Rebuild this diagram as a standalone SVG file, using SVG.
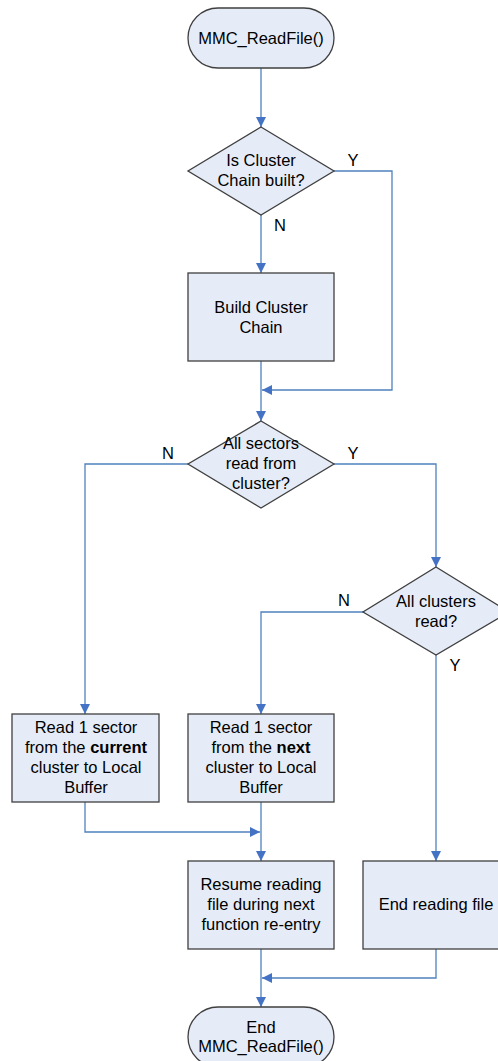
<svg xmlns="http://www.w3.org/2000/svg" width="498" height="1061" viewBox="0 0 498 1061">
  <style>
    .shape { fill: #E6ECF7; stroke: #3F3F3F; stroke-width: 1.3; }
    .conn { fill: none; stroke: #4F81BD; stroke-width: 1.3; }
    text { font-family: "Liberation Sans", Arial, sans-serif; font-size: 16.5px; fill: #000; text-anchor: middle; }
    .lbl { text-anchor: middle; }
  </style>
  <defs>
    <marker id="arrow" viewBox="0 0 10 10" refX="10" refY="5" markerWidth="10" markerHeight="10" markerUnits="userSpaceOnUse" orient="auto">
      <path d="M0,0 L10,5 L0,10 Z" fill="#4472C4"/>
    </marker>
  </defs>
  <rect width="498" height="1061" fill="#FFFFFF"/>

  <!-- connectors -->
  <g id="connectors">
    <path class="conn" d="M261,68 V127" marker-end="url(#arrow)"/>
    <path class="conn" d="M334,171 H392 V390 H262" marker-end="url(#arrow)"/>
    <path class="conn" d="M261,215 V273" marker-end="url(#arrow)"/>
    <path class="conn" d="M261,361 V421" marker-end="url(#arrow)"/>
    <path class="conn" d="M188,464 H85 V714" marker-end="url(#arrow)"/>
    <path class="conn" d="M334,464 H436 V567" marker-end="url(#arrow)"/>
    <path class="conn" d="M363,612 H261 V714" marker-end="url(#arrow)"/>
    <path class="conn" d="M436,655 V861" marker-end="url(#arrow)"/>
    <path class="conn" d="M85,802 V832 H260" marker-end="url(#arrow)"/>
    <path class="conn" d="M261,802 V861" marker-end="url(#arrow)"/>
    <path class="conn" d="M261,949 V1007" marker-end="url(#arrow)"/>
    <path class="conn" d="M436,949 V978 H262" marker-end="url(#arrow)"/>
    <text class="lbl" x="353" y="166">Y</text>
    <text class="lbl" x="280" y="231">N</text>
    <text class="lbl" x="168" y="459">N</text>
    <text class="lbl" x="353" y="459">Y</text>
    <text class="lbl" x="344" y="606">N</text>
    <text class="lbl" x="455" y="671">Y</text>
  </g>

  <g id="start">
    <rect class="shape" x="188" y="8" width="146" height="60" rx="30" ry="30"/>
    <text x="261" y="44">MMC_ReadFile()</text>
  </g>

  <g id="chain-built">
    <polygon class="shape" points="261,127 334,171 261,215 188,171"/>
    <text x="261" y="166">Is Cluster</text>
    <text x="261" y="186">Chain built?</text>
  </g>

  <g id="build-chain">
    <rect class="shape" x="188" y="273" width="146" height="88"/>
    <text x="261" y="313">Build Cluster</text>
    <text x="261" y="333">Chain</text>
  </g>

  <g id="sectors-read">
    <polygon class="shape" points="261,421 334,464 261,508 188,464"/>
    <text x="261" y="449">All sectors</text>
    <text x="261" y="469">read from</text>
    <text x="261" y="489">cluster?</text>
  </g>

  <g id="clusters-read">
    <polygon class="shape" points="436,567 509,612 436,655 363,612"/>
    <text x="436" y="607">All clusters</text>
    <text x="436" y="627">read?</text>
  </g>

  <g id="read-current">
    <rect class="shape" x="12" y="714" width="147" height="88"/>
    <text x="86" y="733">Read 1 sector</text>
    <text x="86" y="753">from the <tspan font-weight="bold">current</tspan></text>
    <text x="86" y="773">cluster to Local</text>
    <text x="86" y="793">Buffer</text>
  </g>

  <g id="read-next">
    <rect class="shape" x="188" y="714" width="146" height="88"/>
    <text x="261" y="733">Read 1 sector</text>
    <text x="261" y="753">from the <tspan font-weight="bold">next</tspan></text>
    <text x="261" y="773">cluster to Local</text>
    <text x="261" y="793">Buffer</text>
  </g>

  <g id="resume">
    <rect class="shape" x="188" y="861" width="146" height="88"/>
    <text x="261" y="890">Resume reading</text>
    <text x="261" y="910">file during next</text>
    <text x="261" y="930">function re-entry</text>
  </g>

  <g id="end-reading">
    <rect class="shape" x="363" y="861" width="146" height="88"/>
    <text x="436" y="910">End reading file</text>
  </g>

  <g id="end">
    <rect class="shape" x="188" y="1007" width="146" height="60" rx="30" ry="30"/>
    <text x="261" y="1033">End</text>
    <text x="261" y="1052">MMC_ReadFile()</text>
  </g>
</svg>
